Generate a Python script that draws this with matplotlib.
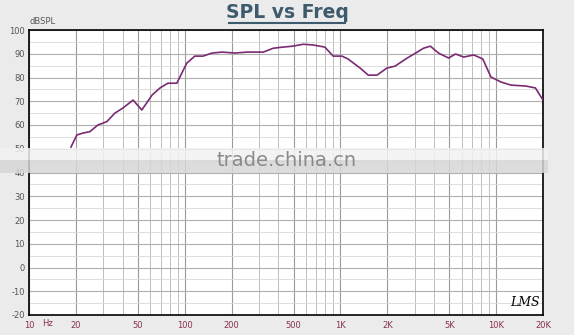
import matplotlib
matplotlib.use("Agg")
import matplotlib.pyplot as plt
from matplotlib.ticker import FixedLocator, LogLocator, NullFormatter
import matplotlib.patches as mpatches

plt.rcParams["axes.unicode_minus"] = False

freq = [18.6, 20.3, 22.2, 24.6, 27.7, 31.6, 35.6, 40.2, 46.6, 53, 61.7, 69.4, 78, 89,
        103, 116, 131, 150, 174, 210, 251, 320, 369, 427, 495, 576, 667, 794, 899,
        1024, 1118, 1337, 1509, 1719, 1990, 2245, 2685, 3117, 3410, 3780, 4262, 4950,
        5490, 6190, 7180, 8210, 9260, 10740, 12460, 15530, 17880, 20000]
spl = [50.7, 55.8, 56.6, 57.2, 60.0, 61.4, 65.0, 67.2, 70.5, 66.3, 72.6, 75.6, 77.6, 77.6,
       86.0, 89.0, 89.0, 90.3, 90.7, 90.3, 90.7, 90.7, 92.3, 92.8, 93.2, 94.0, 93.7, 92.8, 89.0,
       89.0, 87.8, 84.0, 81.0, 81.0, 84.0, 84.8, 88.2, 90.7, 92.3, 93.2, 90.3, 88.2,
       89.9, 88.6, 89.5, 87.8, 80.2, 78.1, 76.8, 76.4, 75.6, 70.5]

xticks = [10, 20, 50, 100, 200, 500, 1000, 2000, 5000, 10000, 20000]
xlabels = ["10", "20", "50", "100", "200", "500", "1K", "2K", "5K", "10K", "20K"]
yticks = list(range(-20, 101, 10))

bg = "#ebebeb"
fig = plt.figure(figsize=(5.74, 3.35), dpi=100, facecolor=bg)
ax = fig.add_axes([29/574, 1-315/335, (543-29)/574, (315-30)/335])
ax.set_facecolor("white")
ax.set_xscale("log")
ax.set_xlim(10, 20000)
ax.set_ylim(-20, 100)

# grid
ax.xaxis.set_major_locator(FixedLocator(xticks))
ax.xaxis.set_minor_locator(LogLocator(base=10, subs=range(1, 10), numticks=20))
ax.xaxis.set_minor_formatter(NullFormatter())
ax.set_xticklabels(xlabels)
ax.set_yticks(yticks)
ax.yaxis.set_minor_locator(FixedLocator(list(range(-15, 100, 10))))
ax.grid(which="major", axis="x", color="#9a9a9a", linewidth=0.8)
ax.grid(which="major", axis="y", color="#b0b0b0", linewidth=0.8)
ax.grid(which="minor", axis="x", color="#bdbdbd", linewidth=0.7)
ax.grid(which="minor", axis="y", color="#d8d8d8", linewidth=0.6)
ax.tick_params(which="both", length=0)
ax.tick_params(axis="x", labelsize=6, colors="#8a3050", pad=4)
ax.tick_params(axis="y", labelsize=6, colors="#555555", pad=3)
for s in ax.spines.values():
    s.set_color("black")
    s.set_linewidth(1.2)

ax.plot(freq, spl, color="#7a2a72", linewidth=1.2, zorder=3)

fig.text(42/574, 1-324/335, "Hz", fontsize=6, color="#8a3050", ha="left", va="center")
fig.text(30/574, 1-22/335, "dBSPL", fontsize=6, color="#555555", ha="left", va="center")
fig.text(287/574, 1-12/335, "SPL vs Freq", fontsize=13.5, fontweight="bold",
         color="#3e5b6e", ha="center", va="center")
fig.add_artist(plt.Line2D([229/574, 345/574], [1-22.5/335, 1-22.5/335], color="#3e5b6e",
                          linewidth=1.5, transform=fig.transFigure))
fig.text(525/574, 1-303/335, "LMS", fontsize=9, style="italic", family="DejaVu Serif",
         color="black", ha="center", va="center")

# watermark band
fig.add_artist(mpatches.Rectangle((0, 1-160/335), 548/574, 12/335, transform=fig.transFigure,
                                  facecolor="#f2f2f2", edgecolor="none", alpha=0.85, zorder=5))
fig.add_artist(mpatches.Rectangle((0, 1-173/335), 548/574, 13/335, transform=fig.transFigure,
                                  facecolor="#d6d6d6", edgecolor="none", alpha=0.85, zorder=5))
fig.text(287/574, 1-161/335, "trade.china.cn", fontsize=14, color="#8a8a8a",
         ha="center", va="center", zorder=6)

fig.savefig("out.png", dpi=100, facecolor=bg)
